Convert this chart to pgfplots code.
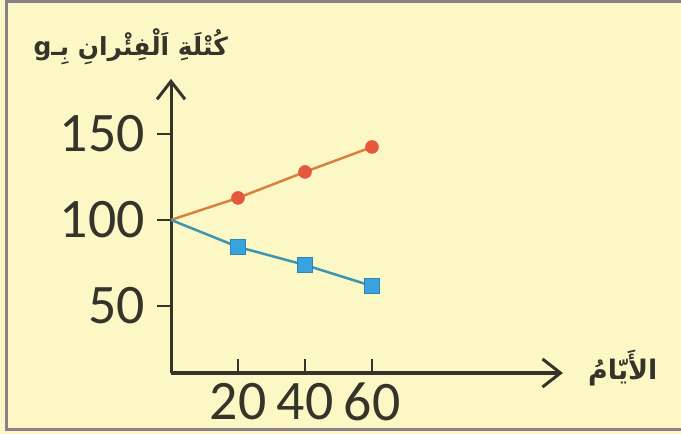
\documentclass[border=0pt]{standalone}
\usepackage{pgfplots}
\pgfplotsset{compat=1.18}
\usepackage{fontspec}
\usetikzlibrary{arrows.meta}
\setmainfont{Carlito}
\newfontfamily\arabicfont[Script=Arabic]{DejaVu Sans}
\TeXXeTstate=1
\definecolor{paper}{HTML}{FBF8C6}
\definecolor{frame}{HTML}{8C808C}
\definecolor{axiscol}{HTML}{35342A}
\definecolor{redline}{HTML}{D9823E}
\definecolor{redmark}{HTML}{E5583B}
\definecolor{blueline}{HTML}{3F95B0}
\definecolor{bluemark}{HTML}{3AA3DE}
\definecolor{blueedge}{HTML}{2F86B5}

\begin{document}
\begin{tikzpicture}
\useasboundingbox (0bp,0bp) rectangle (681bp,434bp);
\fill[paper] (0bp,0bp) rectangle (681bp,434bp);
\draw[frame, line width=3bp] (681bp,432bp) -- (6bp,432bp) -- (6bp,4bp) -- (681bp,4bp);

\begin{axis}[
  at={(171bp,61bp)}, anchor=south west,
  x=3.35bp, y=1.72bp,
  xmin=0, xmax=117, ymin=11, ymax=182,
  axis lines=left,
  axis line style={line width=3bp, draw=axiscol,
    -{Straight Barb[length=18bp,width=28bp,line width=3bp]}},
  xtick={20,40,60}, ytick={50,100,150},
  tick align=inside,
  major tick length=14bp,
  every tick/.style={line width=2.2bp, draw=axiscol},
  every y tick/.append style={xshift=-14bp},
  /pgf/number format/assume math mode=true,
  yticklabel style={font=\fontsize{56}{56}\selectfont, text=axiscol,
    inner sep=0pt, anchor=east, xshift=-26bp},
  xticklabel style={font=\fontsize{56}{56}\selectfont, text=axiscol,
    inner sep=0pt, anchor=north, yshift=-10bp},
  clip=false,
]
\addplot[redline, line width=2.5bp, mark=*, mark indices={2,3,4},
  mark size=6.5bp, mark options={fill=redmark, draw=redmark, line width=0.5bp}]
  coordinates {(0,100) (20,112.8) (40,127.9) (60,142.4)};
\addplot[blueline, line width=2.5bp, mark=square*, mark indices={2,3,4},
  mark size=7.5bp, mark options={fill=bluemark, draw=blueedge, line width=1bp}]
  coordinates {(0,100) (20,84.3) (40,73.8) (60,61.6)};
\end{axis}

\node[anchor=base east, inner sep=0pt, text=axiscol]
  at (228bp,378bp) {\arabicfont\bfseries\fontsize{25}{25}\selectfont\beginR كُتْلَةِ اَلْفِئْرانِ بِـg\endR};
\node[anchor=base west, inner sep=0pt, text=axiscol]
  at (588bp,54bp) {\arabicfont\bfseries\fontsize{27}{27}\selectfont\beginR الأَيّامُ\endR};
\end{tikzpicture}
\end{document}
